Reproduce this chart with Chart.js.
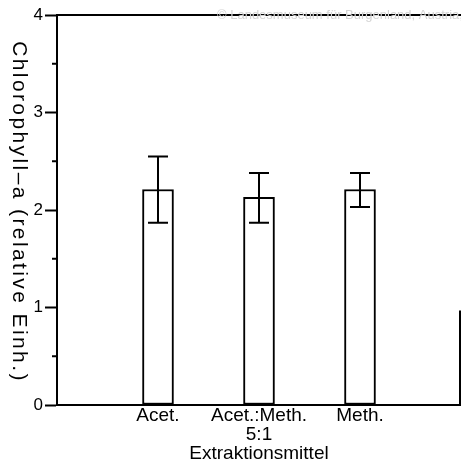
<!DOCTYPE html>
<html>
<head>
<meta charset="utf-8">
<script src="https://cdn.jsdelivr.net/npm/chart.js@4"></script>
<style>
  body { margin: 0; background: #fff; }
  #wrap { width: 461px; height: 463px; }
</style>
</head>
<body>
<div id="wrap"><canvas id="chart"></canvas></div>
<script>
// Data
const categories = ['', 'Acet.', ['Acet.:Meth.', '5:1'], 'Meth.', ''];
const values = [null, 2.21, 2.13, 2.21, null];
const errHigh = [null, 2.55, 2.38, 2.38, null];
const errLow = [null, 1.87, 1.87, 2.03, null];
const yTicks = [0, 1, 2, 3, 4];
const yMinorTicks = [0.5, 1.5, 2.5, 3.5];

const yTitle = 'Chlorophyll\u2013a (relative Einh.)';
const xTitle = 'Extraktionsmittel';
const watermark = '\u00a9 Landesmuseum f\u00fcr Burgenland, Austria, download unter www.zobodat.at';

const FONT = '"Liberation Sans", Arial, sans-serif';

// Error bars, minor ticks, frame, rotated y title
const extras = {
    id: 'extras',
    afterDatasetsDraw(chart) {
        const ctx = chart.ctx;
        const y = chart.scales.y;
        const meta = chart.getDatasetMeta(0);
        ctx.save();
        ctx.strokeStyle = '#000';
        ctx.lineWidth = 2;
        values.forEach((v, i) => {
            if (v === null) return;
            const x = meta.data[i].x;
            const hi = y.getPixelForValue(errHigh[i]);
            const lo = y.getPixelForValue(errLow[i]);
            ctx.beginPath();
            ctx.moveTo(x, hi); ctx.lineTo(x, lo);
            ctx.moveTo(x - 10, hi); ctx.lineTo(x + 10, hi);
            ctx.moveTo(x - 10, lo); ctx.lineTo(x + 10, lo);
            ctx.stroke();
        });
        ctx.restore();
    },
    afterDraw(chart) {
        const ctx = chart.ctx;
        const y = chart.scales.y;
        const area = chart.chartArea;
        ctx.save();
        ctx.strokeStyle = '#000';
        ctx.lineWidth = 2;
        // minor ticks
        yMinorTicks.forEach(v => {
            const py = y.getPixelForValue(v);
            ctx.beginPath();
            ctx.moveTo(area.left - 5, py); ctx.lineTo(area.left, py);
            ctx.stroke();
        });
        // top frame and partial right frame
        ctx.beginPath();
        ctx.moveTo(area.left, y.getPixelForValue(4));
        ctx.lineTo(area.right, y.getPixelForValue(4));
        ctx.moveTo(area.right - 1, y.getPixelForValue(0.97));
        ctx.lineTo(area.right - 1, y.getPixelForValue(0));
        ctx.stroke();

        // watermark
        ctx.fillStyle = '#d4d4d4';
        ctx.font = '13px ' + FONT;
        ctx.textBaseline = 'middle';
        ctx.textAlign = 'left';
        ctx.fillText(watermark, 217, 15);

        // y title, reading top to bottom
        ctx.fillStyle = '#000';
        ctx.font = '21px ' + FONT;
        ctx.letterSpacing = '2.4px';
        ctx.translate(13, 212);
        ctx.rotate(Math.PI / 2);
        ctx.textAlign = 'center';
        ctx.textBaseline = 'alphabetic';
        ctx.fillText(yTitle, 0, 0);
        ctx.restore();
    }
};

const chartCtx = document.getElementById('chart').getContext('2d');
const chart = new Chart(chartCtx, {
    type: 'bar',
    data: {
        labels: categories,
        datasets: [{
            data: values,
            backgroundColor: '#fff',
            borderColor: '#000',
            borderWidth: 2,
            borderSkipped: false,
            barThickness: 31
        }]
    },
    options: {
        responsive: true,
        maintainAspectRatio: false,
        animation: false,
        devicePixelRatio: 1,
        layout: {
            padding: { top: 15, left: 0, right: 0, bottom: 0 }
        },
        scales: {
            x: {
                offset: false,
                grid: {
                    drawOnChartArea: false,
                    drawTicks: true,
                    tickLength: 2,
                    tickColor: 'transparent'
                },
                border: { color: '#000', width: 2 },
                ticks: {
                    color: '#000',
                    font: { family: FONT, size: 19, lineHeight: 0.97 },
                    padding: 0,
                    autoSkip: false,
                    maxRotation: 0,
                    minRotation: 0
                },
                title: {
                    display: true,
                    text: xTitle,
                    color: '#000',
                    font: { family: FONT, size: 19, lineHeight: 1 },
                    padding: { top: 0, bottom: 0 }
                },
                afterFit: s => { s.height = 58; }
            },
            y: {
                min: 0,
                max: 4,
                afterBuildTicks: s => { s.ticks = yTicks.map(v => ({ value: v })); },
                grid: {
                    drawOnChartArea: false,
                    drawTicks: true,
                    tickLength: 12,
                    tickWidth: 2,
                    tickColor: '#000'
                },
                border: { color: '#000', width: 2 },
                ticks: {
                    color: '#000',
                    font: { family: FONT, size: 17 },
                    padding: 2
                },
                afterFit: s => { s.width = 57; }
            }
        },
        plugins: {
            legend: { display: false },
            tooltip: { enabled: false }
        }
    },
    plugins: [extras]
});
</script>
</body>
</html>
